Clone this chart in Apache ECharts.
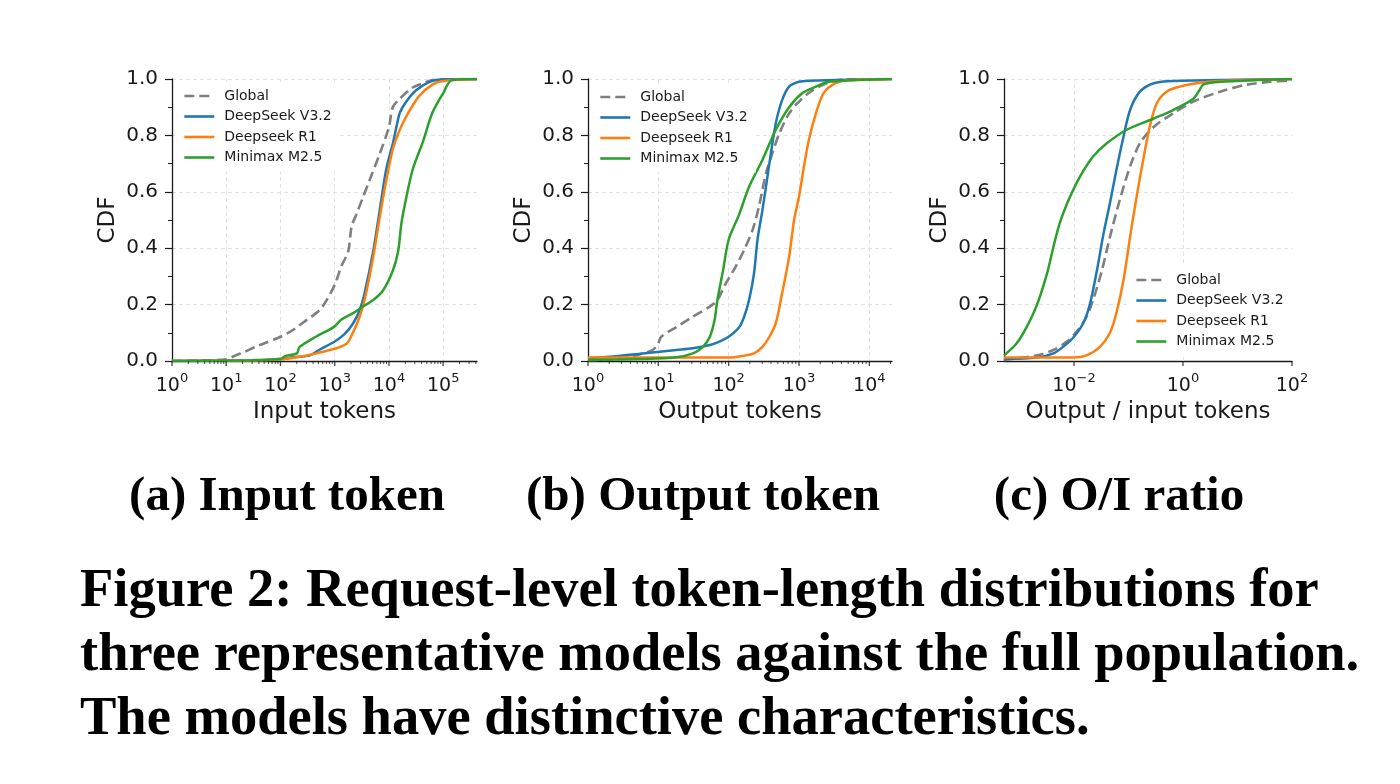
<!DOCTYPE html>
<html>
<head>
<meta charset="utf-8">
<script src="https://cdn.jsdelivr.net/npm/echarts@6/dist/echarts.min.js"></script>
<style>
    html, body {margin: 0; padding: 0; background: #fff;}
    #chart {width: 1400px; height: 784px;}
</style>
</head>
<body>
<div id="chart"></div>
<script>
var seriesNames = ['Global', 'DeepSeek V3.2', 'Deepseek R1', 'Minimax M2.5'];
var seriesColors = ['#7f7f7f', '#1f77b4', '#ff7f0e', '#2ca02c'];

// (a) input tokens -> CDF
var inputGlobal = [[1, 0], [3, 0.002], [10, 0.006], [15, 0.02], [22, 0.033], [42, 0.057], [100, 0.086], [170, 0.11], [300, 0.145], [525, 0.18], [710, 0.216], [1000, 0.27], [1320, 0.335], [1780, 0.39], [2040, 0.476], [2510, 0.52], [3310, 0.58], [4370, 0.64], [6760, 0.735], [10000, 0.83], [11750, 0.9], [15850, 0.93], [27500, 0.97], [42700, 0.985], [63100, 0.996], [420000, 1]];
var inputV32 = [[1, 0], [30, 0.002], [100, 0.006], [170, 0.013], [350, 0.02], [525, 0.04], [1000, 0.069], [1510, 0.095], [2190, 0.134], [2880, 0.18], [3550, 0.24], [5130, 0.39], [6760, 0.535], [8910, 0.68], [11750, 0.77], [14100, 0.84], [15850, 0.88], [20900, 0.92], [31600, 0.96], [56200, 0.99], [100000, 0.999], [420000, 1]];
var inputR1 = [[1, 0], [30, 0.002], [100, 0.006], [230, 0.015], [525, 0.03], [1070, 0.045], [1620, 0.06], [2000, 0.086], [2880, 0.157], [3550, 0.216], [5130, 0.37], [6760, 0.51], [8910, 0.64], [11750, 0.75], [15850, 0.82], [22400, 0.878], [36300, 0.94], [63100, 0.98], [100000, 0.993], [420000, 1]];
var inputM25 = [[1, 0], [30, 0.003], [100, 0.008], [125, 0.018], [200, 0.027], [225, 0.05], [450, 0.086], [955, 0.12], [1350, 0.148], [2190, 0.17], [3310, 0.193], [5130, 0.216], [7760, 0.25], [11750, 0.32], [14800, 0.39], [17000, 0.49], [20900, 0.58], [27500, 0.68], [42700, 0.78], [63100, 0.88], [100000, 0.95], [145000, 0.996], [420000, 1]];

// (b) output tokens -> CDF
var outputGlobal = [[1, 0.003], [3, 0.008], [6, 0.027], [8.3, 0.039], [10, 0.063], [11, 0.086], [18, 0.12], [31, 0.157], [54, 0.193], [69, 0.216], [91, 0.275], [126, 0.335], [166, 0.394], [219, 0.465], [269, 0.547], [339, 0.665], [417, 0.736], [525, 0.807], [724, 0.878], [1000, 0.92], [1550, 0.96], [2630, 0.987], [4070, 0.997], [21000, 1]];
var outputV32 = [[1, 0.01], [2, 0.015], [6, 0.027], [18, 0.039], [31, 0.045], [54, 0.057], [74, 0.069], [100, 0.086], [141, 0.12], [166, 0.157], [195, 0.216], [229, 0.31], [257, 0.43], [302, 0.535], [339, 0.618], [398, 0.736], [468, 0.843], [575, 0.925], [724, 0.973], [1000, 0.99], [1380, 0.994], [21000, 1]];
var outputR1 = [[1, 0.012], [100, 0.012], [158, 0.018], [229, 0.027], [302, 0.05], [380, 0.086], [468, 0.134], [575, 0.24], [724, 0.37], [851, 0.5], [1000, 0.583], [1175, 0.69], [1380, 0.784], [1740, 0.878], [2240, 0.95], [3310, 0.985], [5130, 0.996], [21000, 1]];
var outputM25 = [[1, 0.004], [6, 0.007], [18, 0.013], [31, 0.027], [43, 0.05], [54, 0.086], [63, 0.145], [69, 0.216], [83, 0.32], [100, 0.43], [141, 0.52], [195, 0.618], [302, 0.713], [468, 0.82], [724, 0.9], [1120, 0.95], [1740, 0.973], [2630, 0.99], [21000, 1]];

// (c) output / input ratio -> CDF
var ratioGlobal = [[5.2e-4, 0.004], [2.1e-3, 0.02], [4.2e-3, 0.039], [7.4e-3, 0.069], [0.0112, 0.104], [0.017, 0.157], [0.0224, 0.216], [0.0324, 0.32], [0.0457, 0.44], [0.069, 0.57], [0.107, 0.69], [0.162, 0.772], [0.29, 0.83], [0.66, 0.878], [1.55, 0.92], [4.8, 0.955], [14.8, 0.98], [40, 0.99], [100, 0.995]];
var ratioV32 = [[5.2e-4, 0.007], [2.1e-3, 0.012], [4.2e-3, 0.027], [6.3e-3, 0.05], [0.01, 0.086], [0.0148, 0.134], [0.0195, 0.2], [0.0263, 0.32], [0.0347, 0.45], [0.0457, 0.56], [0.06, 0.677], [0.081, 0.795], [0.107, 0.89], [0.162, 0.955], [0.29, 0.985], [0.66, 0.993], [100, 1]];
var ratioR1 = [[5.2e-4, 0.012], [0.01, 0.012], [0.017, 0.02], [0.03, 0.05], [0.0457, 0.1], [0.06, 0.17], [0.081, 0.287], [0.107, 0.44], [0.141, 0.583], [0.186, 0.713], [0.245, 0.83], [0.33, 0.914], [0.5, 0.955], [0.87, 0.973], [1.78, 0.985], [4.8, 0.993], [100, 1]];
var ratioM25 = [[5.2e-4, 0.02], [8.9e-4, 0.063], [1.35e-3, 0.12], [2.1e-3, 0.2], [3.2e-3, 0.31], [4.2e-3, 0.405], [5.5e-3, 0.49], [8.5e-3, 0.583], [0.0129, 0.654], [0.0224, 0.725], [0.04, 0.772], [0.093, 0.82], [0.29, 0.86], [0.66, 0.89], [1.55, 0.93], [2.0, 0.96], [2.35, 0.98], [4.8, 0.99], [100, 1]];

var panelData = [
    [inputGlobal, inputV32, inputR1, inputM25],
    [outputGlobal, outputV32, outputR1, outputM25],
    [ratioGlobal, ratioV32, ratioR1, ratioM25]
];
var axisNames = ['Input tokens', 'Output tokens', 'Output / input tokens'];
var subCaptions = ['(a) Input token', '(b) Output token', '(c) O/I ratio'];
var captionText = 'Figure 2: Request-level token-length distributions for\nthree representative models against the full population.\nThe models have distinctive characteristics.';

// layout of the three panels (pixels)
var panels = [
    {left: 172, width: 305, xMin: 1, xMax: 420000, decades: [0, 5], minor: true, step: 1, legendLeft: 175, legendTop: 82},
    {left: 588, width: 304, xMin: 1, xMax: 21000, decades: [0, 4], minor: true, step: 1, legendLeft: 591, legendTop: 83},
    {left: 1004, width: 288, xMin: 5.2e-4, xMax: 100, decades: [-2, 2], minor: false, step: 2, legendLeft: 1127, legendTop: 266}
];

var ink = '#1a1a1a';
var gridStyle = {color: '#e2e2e2', width: 1, type: [4, 3]};

// matplotlib-like log ticks (major at decades, minor at 2..9)
function logTicks(p) {
    var major = [], minor = [];
    for (var e = p.decades[0]; e <= p.decades[1]; e += p.step) {
        var base = Math.pow(10, e);
        major.push(base);
        if (p.minor) {
            for (var m = 2; m <= 9; m++) {
                if (m * base <= p.xMax) minor.push(m * base);
            }
        }
    }
    return {major: major, minor: minor};
}

function tickSeries(i, values, len, w) {
    return {
        type: 'scatter', xAxisIndex: i, yAxisIndex: i, silent: true, clip: false,
        symbol: 'rect', symbolSize: [w, len], symbolOffset: [0, len / 2],
        itemStyle: {color: ink}, z: 6,
        data: values.map(function (v) { return [v, 0]; })
    };
}

function powerLabel(step) {
    return function (v) {
        var lg = Math.log10(v);
        var e = Math.round(lg);
        if (Math.abs(lg - e) > 1e-6 || e % step !== 0) return '';
        return '{b|10}{s|' + (e < 0 ? '\u2212' + (-e) : e) + '}';
    };
}

var grids = [], xAxes = [], yAxes = [], legends = [], series = [];

panels.forEach(function (p, i) {
    var t = logTicks(p);
    // with a 2-decade step the library grid would not line up, so draw it from the major ticks
    var ownGrid = p.step !== 1;
    grids.push({left: p.left, top: 79, width: p.width, height: 282, outerBoundsMode: 'none'});
    xAxes.push({
        type: 'log', logBase: 10, gridIndex: i, min: p.xMin, max: p.xMax,
        name: axisNames[i], nameLocation: 'middle', nameGap: 40,
        nameTextStyle: {fontFamily: 'DejaVu Sans', fontSize: 23, color: ink},
        axisLine: {show: true, onZero: false, lineStyle: {color: ink, width: 1.3}},
        axisTick: {show: false},
        minorTick: {show: false},
        axisLabel: {
            margin: 11, formatter: powerLabel(p.step), color: ink,
            rich: {
                b: {fontFamily: 'DejaVu Sans', fontSize: 19, lineHeight: 24, verticalAlign: 'bottom', color: ink},
                s: {fontFamily: 'DejaVu Sans', fontSize: 13, lineHeight: 13, verticalAlign: 'top', color: ink}
            }
        },
        splitLine: {show: !ownGrid, showMinLine: false, showMaxLine: false, lineStyle: gridStyle}
    });
    yAxes.push({
        type: 'value', gridIndex: i, min: 0, max: 1, interval: 0.2,
        name: 'CDF', nameLocation: 'middle', nameGap: 52, nameRotate: 90,
        nameTextStyle: {fontFamily: 'DejaVu Sans', fontSize: 23, color: ink},
        axisLine: {show: true, lineStyle: {color: ink, width: 1.3}},
        axisTick: {show: true, length: 7, lineStyle: {color: ink, width: 1.2}},
        minorTick: {show: true, splitNumber: 2, length: 4, lineStyle: {color: ink, width: 1}},
        axisLabel: {
            fontFamily: 'DejaVu Sans', fontSize: 20, margin: 14, color: ink,
            formatter: function (v) { return v.toFixed(1); }
        },
        splitLine: {show: true, showMinLine: false, lineStyle: gridStyle}
    });
    legends.push({
        data: seriesNames, orient: 'vertical', left: p.legendLeft, top: p.legendTop,
        padding: [7, 8, 7, 8], itemWidth: 30, itemHeight: 14, itemGap: 6.5,
        backgroundColor: '#fff', selectedMode: false,
        itemStyle: {opacity: 0, borderWidth: 0},
        lineStyle: {width: 2.6},
        textStyle: {fontFamily: 'DejaVu Sans', fontSize: 14, color: '#1a1a1a', padding: [0, 0, 0, 5]}
    });
    panelData[i].forEach(function (d, k) {
        var s = {
            name: seriesNames[k], type: 'line', xAxisIndex: i, yAxisIndex: i, data: d,
            symbol: 'none', smooth: 0.3,
            lineStyle: {color: seriesColors[k], width: k === 0 ? 2.6 : 2.5, type: k === 0 ? [10, 5] : 'solid'},
            itemStyle: {color: seriesColors[k]}
        };
        if (ownGrid && k === 0) {
            s.markLine = {
                silent: true, symbol: 'none', label: {show: false}, z: 1,
                lineStyle: gridStyle,
                data: t.major.filter(function (v) { return v < p.xMax; }).map(function (v) { return {xAxis: v}; })
            };
        }
        series.push(s);
    });
    series.push(tickSeries(i, t.major, 5, 1.3));
    if (t.minor.length) series.push(tickSeries(i, t.minor, 3, 1));
});

var graphics = [];
[287, 703, 1119].forEach(function (x, i) {
    graphics.push({
        type: 'text', x: x, y: 497,
        style: {text: subCaptions[i], font: 'bold 49px "Liberation Serif"', fill: '#000', textAlign: 'center', textVerticalAlign: 'middle'}
    });
});
graphics.push({
    type: 'text', x: 80, y: 560,
    style: {text: captionText, font: 'bold 54.5px "Liberation Serif"', fill: '#000', textAlign: 'left', textVerticalAlign: 'top', lineHeight: 64}
});

var chart = echarts.init(document.getElementById('chart'), null, {renderer: 'canvas'});
chart.setOption({
    backgroundColor: '#fff',
    animation: false,
    textStyle: {fontFamily: 'DejaVu Sans'},
    grid: grids,
    xAxis: xAxes,
    yAxis: yAxes,
    legend: legends,
    series: series,
    graphic: graphics
});
</script>
</body>
</html>
